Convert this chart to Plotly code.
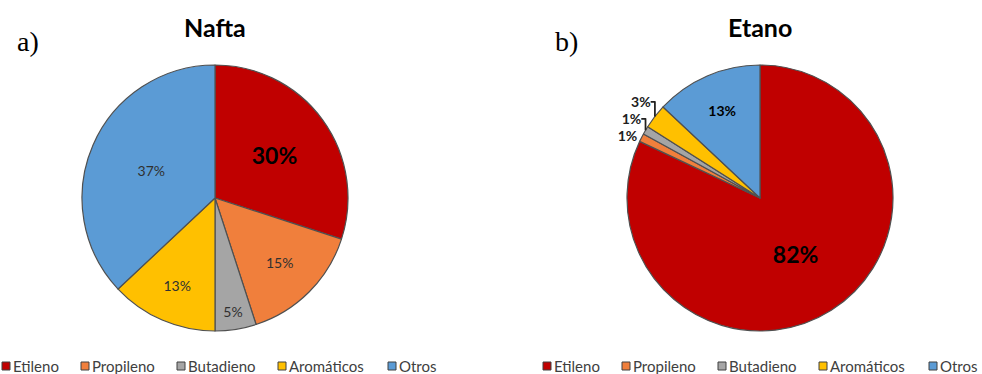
import plotly.graph_objects as go

labels = ["Etileno", "Propileno", "Butadieno", "Aromáticos", "Otros"]
nafta = [30, 15, 5, 13, 37]
etano = [82, 1, 1, 3, 13]
colors = ["#C00000", "#F07F3C", "#A5A5A5", "#FFC000", "#5B9BD5"]

W, H = 982, 374
FONT = "Lato, 'Open Sans', sans-serif"
EDGE = dict(color="#505050", width=1.2)


def dom(cx, cy, r):
    return dict(x=[(cx - r) / W, (cx + r) / W], y=[(H - cy - r) / H, (H - cy + r) / H])


fig = go.Figure()
fig.add_trace(go.Pie(
    labels=labels, values=nafta, sort=False, direction="clockwise", rotation=0,
    marker=dict(colors=colors, line=EDGE),
    texttemplate=["<b>%{value}%</b>"] + ["%{value}%"] * 4,
    textposition="inside", insidetextorientation="horizontal",
    textfont=dict(family=FONT, color=["black"] + ["#303030"] * 4, size=[23, 14, 14, 14, 14]),
    domain=dom(215, 198, 133), showlegend=False,
))
fig.add_trace(go.Pie(
    labels=labels, values=etano, sort=False, direction="clockwise", rotation=0,
    marker=dict(colors=colors, line=EDGE),
    texttemplate="<b>%{value}%</b>",
    textposition=["inside", "outside", "outside", "outside", "inside"],
    insidetextorientation="horizontal",
    textfont=dict(family=FONT, color="black", size=[23, 14, 14, 14, 14]),
    outsidetextfont=dict(family=FONT, color="#202020", size=14),
    domain=dom(760, 198, 133), showlegend=False,
))

# Legends under each pie: square swatch followed by its label
legend_x = [2, 81, 177, 278, 388]
shapes, annotations = [], []
for x0 in (0, 541):
    for lab, col, dx in zip(labels, colors, legend_x):
        sx = x0 + dx
        shapes.append(dict(type="rect", xref="paper", yref="paper",
                           x0=sx / W, x1=(sx + 8) / W, y0=(H - 370) / H, y1=(H - 362) / H,
                           fillcolor=col, line=dict(color="#404040", width=1)))
        annotations.append(dict(text=lab, x=(sx + 10) / W, y=(H - 365.5) / H,
                                xref="paper", yref="paper", xanchor="left", yanchor="middle",
                                borderpad=0, showarrow=False,
                                font=dict(size=15, color="#404040", family=FONT)))

for txt, cx in (("<b>Nafta</b>", 215), ("<b>Etano</b>", 760)):
    annotations.append(dict(text=txt, x=cx / W, y=1 - 27 / H, xref="paper", yref="paper",
                            xanchor="center", yanchor="middle", showarrow=False,
                            font=dict(size=25, color="black", family=FONT)))
for txt, cx in (("a)", 28), ("b)", 566)):
    annotations.append(dict(text=txt, x=cx / W, y=1 - 41 / H, xref="paper", yref="paper",
                            xanchor="center", yanchor="middle", showarrow=False,
                            font=dict(size=28, color="black", family="Liberation Serif")))

fig.update_layout(
    width=W, height=H, margin=dict(l=0, r=0, t=0, b=0),
    paper_bgcolor="white", plot_bgcolor="white",
    font=dict(family=FONT, size=14, color="#333333"),
    shapes=shapes, annotations=annotations,
)

fig.write_html("out.html")
